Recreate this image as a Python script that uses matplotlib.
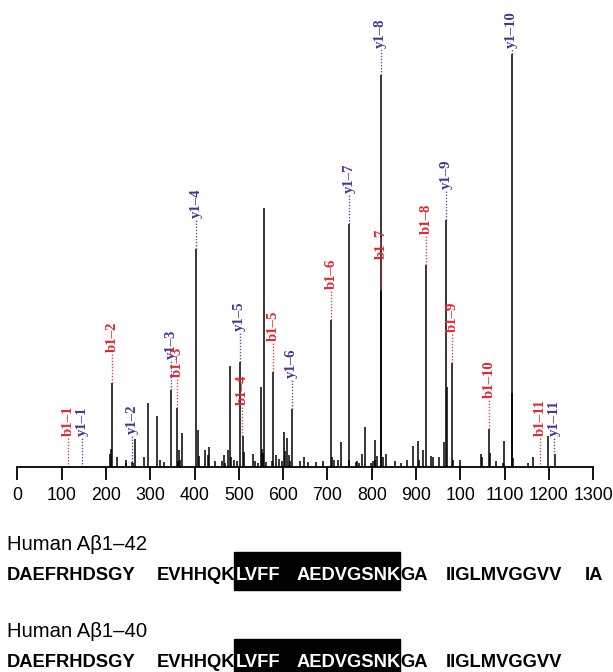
"""
Spectre MS/MS d'un fragment Aβ avec annotations b/y,
et séquences Aβ1–42 / Aβ1–40 en dessous (région encadrée en noir).
"""

import matplotlib
matplotlib.use("Agg")
import matplotlib.pyplot as plt
from matplotlib.patches import Rectangle


RED   = "#e3262f"
BLUE  = "#4b3396"
W, H  = 613, 672          # taille de sortie (px)

# ── Données ────────────────────────────────────────────────────────────────────

peak_mz = [
    208.3, 210.9, 213.6, 225.9, 244.5, 246.2, 259.5, 262.1, 266.5, 285.9,
    295.6, 314.2, 322.1, 331.8, 347.7, 361.0, 362.7, 365.4, 367.1, 371.6,
    404.2, 406.9, 409.5, 423.6, 429.8, 433.3, 445.7, 462.4, 466.0, 469.5,
    474.8, 480.1, 481.9, 488.0, 496.0, 502.2, 508.3, 512.7, 533.0, 536.6,
    543.6, 549.8, 551.6, 554.2, 557.8, 560.4, 575.4, 578.1, 584.2, 590.4,
    598.4, 601.9, 603.6, 609.8, 612.5, 616.0, 619.5, 639.0, 646.0, 656.6,
    674.3, 689.3, 708.7, 711.3, 714.0, 722.8, 731.6, 747.5, 749.3, 764.3,
    766.9, 771.3, 778.4, 785.4, 797.8, 802.2, 806.6, 808.4, 811.1, 819.9,
    821.6, 826.0, 831.3, 853.4, 865.8, 879.0, 894.0, 904.6, 907.2, 916.1,
    923.1, 934.6, 938.1, 951.4, 962.0, 967.3, 969.0, 981.4, 984.0, 999.0,
    1047.6, 1049.4, 1065.2, 1067.9, 1079.3, 1095.2, 1098.8, 1115.5, 1117.3,
    1119.1, 1153.5, 1164.1, 1197.6, 1212.6,
]
peak_int = [
    3.2, 4.4, 20.3, 2.4, 1.8, 1.0, 1.1, 1.0, 6.8, 2.4,
    15.5, 12.4, 1.8, 1.3, 18.6, 14.4, 1.4, 4.0, 1.6, 8.2,
    52.8, 9.0, 2.7, 4.0, 3.0, 4.8, 1.4, 1.4, 3.0, 1.0,
    4.0, 24.4, 2.4, 1.8, 1.4, 25.5, 7.4, 3.6, 3.2, 1.5,
    1.0, 19.4, 4.4, 3.4, 62.8, 1.1, 1.5, 22.9, 3.0, 1.9,
    1.5, 8.5, 3.8, 7.1, 3.0, 1.4, 14.0, 1.4, 2.4, 1.1,
    1.1, 1.4, 35.5, 2.4, 1.8, 1.6, 6.1, 1.6, 58.8, 1.1,
    1.4, 1.0, 3.2, 9.6, 1.0, 1.4, 1.6, 6.6, 2.6, 94.8,
    42.8, 2.4, 3.2, 1.4, 1.0, 1.6, 5.0, 6.2, 1.8, 4.2,
    48.8, 2.7, 2.4, 2.4, 6.0, 59.9, 19.4, 25.2, 1.8, 1.8,
    3.2, 2.4, 9.3, 3.4, 1.4, 1.0, 6.4, 100.0, 17.8,
    2.2, 1.0, 2.4, 7.4, 3.2,
]

ion_labels = [
    "b1–1", "y1–1", "b1–2", "y1–2", "y1–3", "b1–3", "y1–4", "b1–4",
    "y1–5", "b1–5", "y1–6", "b1–6", "y1–7", "b1–7", "y1–8", "b1–8",
    "y1–9", "b1–9", "b1–10", "y1–10", "b1–11", "y1–11",
]
ion_mz = [
    114.4, 146.2, 213.6, 259.6, 347.7, 361.0, 404.2, 507.9,
    502.2, 578.1, 619.5, 708.7, 749.3, 821.6, 819.9, 923.1,
    967.3, 981.4, 1065.2, 1115.5, 1179.6, 1211.2,
]
ion_int = [
    0.0, 0.0, 20.3, 0.5, 18.6, 14.4, 52.8, 7.4,
    25.5, 22.9, 14.0, 35.5, 58.8, 42.8, 94.8, 48.8,
    59.9, 25.2, 9.3, 100.0, 0.0, 0.0,
]

xticks      = list(range(0, 1301, 100))
xticklabels = ["0", "100", "200", "300", "400", "500", "600", "700",
               "800", "900", "100", "1100", "1200", "1300"]

seq_titles = ["Human Aβ1–42", "Human Aβ1–40"]
seq_groups = [
    ["DAEFRHDSGY", "EVHHQK", "LVFF", "AEDVGSNK", "GA", "IIGLMVGGVV", "IA"],
    ["DAEFRHDSGY", "EVHHQK", "LVFF", "AEDVGSNK", "GA", "IIGLMVGGVV"],
]
boxed = {"LVFF", "AEDVGSNK"}


# ── Figure ─────────────────────────────────────────────────────────────────────

fig = plt.figure(figsize=(W / 100, H / 100), dpi=100, facecolor="white")

def fx(px):  return px / W
def fy(py):  return 1 - py / H

base_px, x0_px, x1_px = 467, 17.3, 593.3
ax = fig.add_axes([fx(x0_px), fy(base_px), (x1_px - x0_px) / W, base_px / H])
ax.set_xlim(0, 1300)
ax.set_ylim(0, base_px / 4.13)

ax.vlines(peak_mz, 0, peak_int, color="black", lw=1.1)

for lab, mz, h in zip(ion_labels, ion_mz, ion_int):
    col = RED if lab.startswith("b") else BLUE
    ly = min(h + 7.5, 101.5)
    if ly - h > 1:
        ax.plot([mz, mz], [h, ly - 0.4], ls=(0, (1, 1.2)), color=col, lw=1.0,
                alpha=0.85)
    ax.text(mz, ly, lab, rotation=90, ha="center", va="bottom", color=col,
            fontsize=10.6, family="Liberation Serif", weight="bold",
            clip_on=False)

for side in ("left", "right", "top"):
    ax.spines[side].set_visible(False)
ax.spines["bottom"].set_linewidth(1.3)
ax.set_yticks([])
ax.set_xticks(xticks)
ax.set_xticklabels(xticklabels, family="Liberation Sans", fontsize=12.8)
ax.tick_params(axis="x", direction="out", length=9.4, width=1.3, pad=5)
ax.patch.set_alpha(0)

# ── Séquences ──────────────────────────────────────────────────────────────────

group_x   = [7, 156.5, 235.5, 297, 400, 446, 585]
title_y   = [550, 636.7]
seq_y     = [580, 666.7]
box_top   = [552, 638.5]

for title, groups, ty, sy, bt in zip(seq_titles, seq_groups, title_y, seq_y, box_top):
    fig.text(fx(7), fy(ty), title, family="Liberation Sans", fontsize=14.6,
             va="baseline", ha="left")
    fig.patches.append(Rectangle((fx(234), fy(bt + 38)), 166 / W, 38 / H,
                                 transform=fig.transFigure, color="black",
                                 zorder=0))
    for g, gx in zip(groups, group_x):
        fig.text(fx(gx), fy(sy), g, family="Liberation Sans", weight="bold",
                 fontsize=13.2, va="baseline", ha="left",
                 color="white" if g in boxed else "black", zorder=2)

fig.savefig("out.png", dpi=100)
